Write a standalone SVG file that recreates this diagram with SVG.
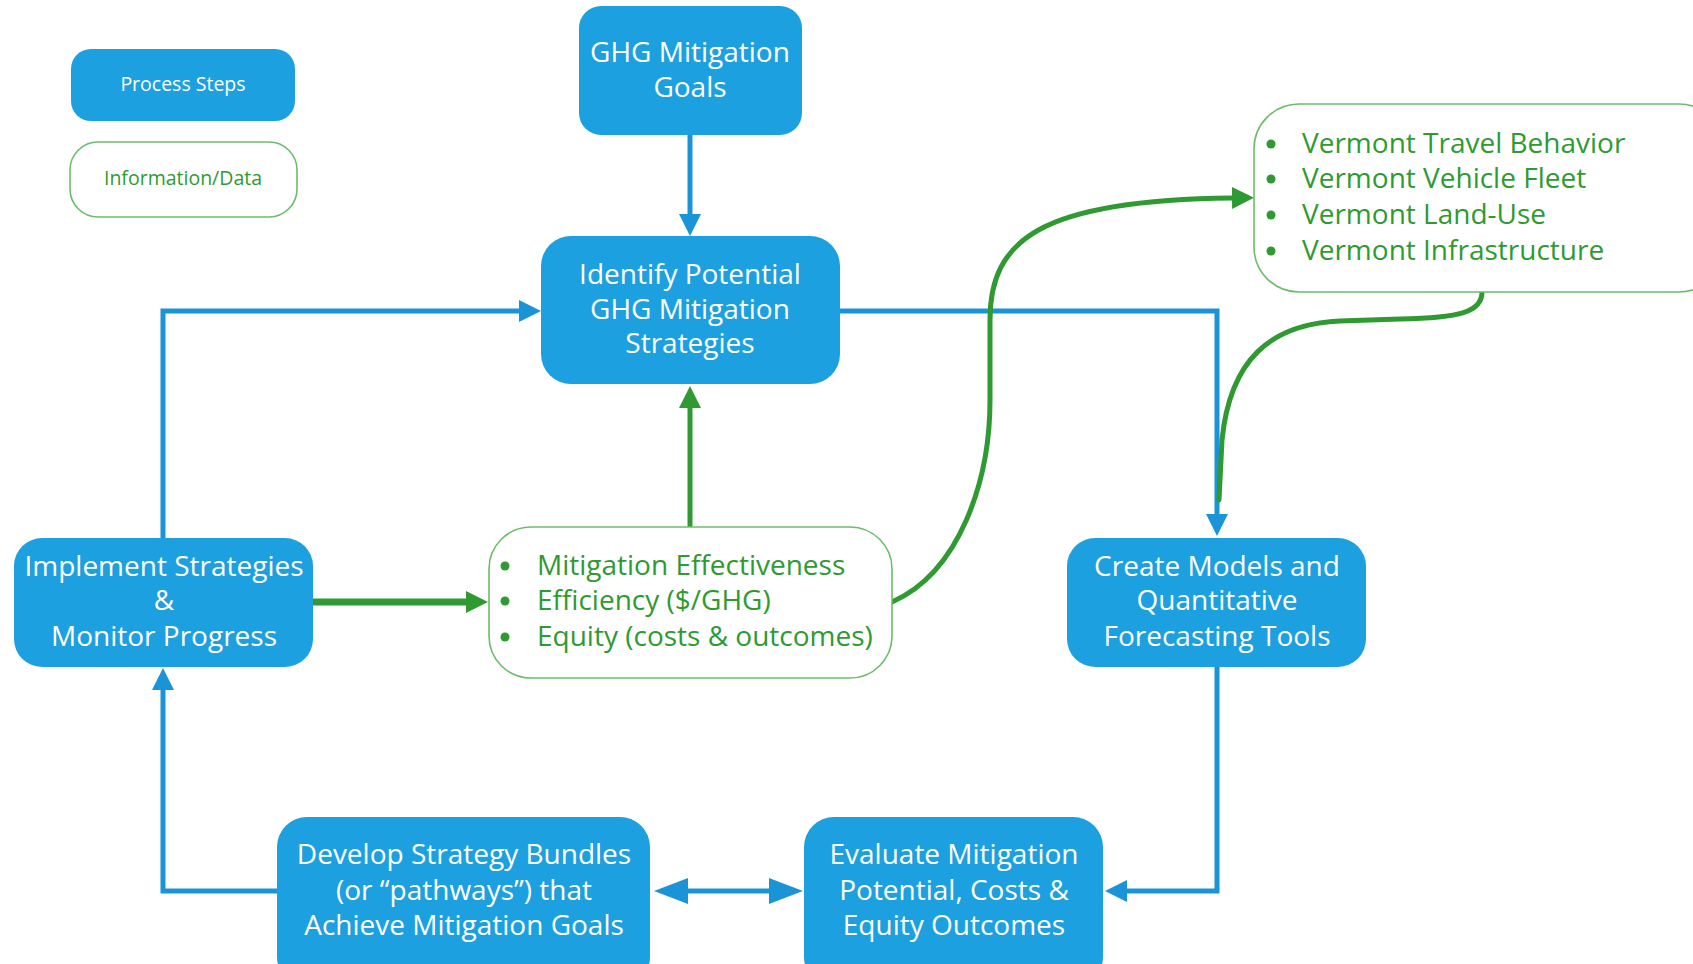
<svg xmlns="http://www.w3.org/2000/svg" width="1693" height="964" viewBox="0 0 1693 964">
<style>
.proc{fill:#1DA0E0;}
.info{fill:#ffffff;stroke:#6CBD6A;stroke-width:1.6;}
.pt{font-family:"Open Sans","Noto Sans",sans-serif;font-size:28px;fill:#ffffff;text-anchor:middle;}
.it{font-family:"Open Sans","Noto Sans",sans-serif;font-size:28px;fill:#2E9A31;}
.bul{fill:#2E9A31;}
.bl{fill:none;stroke:#1A94D6;stroke-width:5;}
.gl{fill:none;stroke:#2E9A31;stroke-width:5;stroke-linecap:round;}
</style>
<defs>
<marker id="ab" viewBox="0 0 22 22" refX="0" refY="11" markerWidth="22" markerHeight="22" orient="auto" markerUnits="userSpaceOnUse"><path d="M0,0 L22,11 L0,22 z" fill="#1A94D6"/></marker>
<marker id="abig" viewBox="0 0 34 26" refX="0" refY="13" markerWidth="34" markerHeight="26" orient="auto-start-reverse" markerUnits="userSpaceOnUse"><path d="M0,0 L34,13 L0,26 z" fill="#1A94D6"/></marker>
<marker id="ag" viewBox="0 0 22 22" refX="0" refY="11" markerWidth="22" markerHeight="22" orient="auto" markerUnits="userSpaceOnUse"><path d="M0,0 L22,11 L0,22 z" fill="#2E9A31"/></marker>
</defs>

<g id="connectors">
<path class="bl" d="M690 135 L690 214" marker-end="url(#ab)"/>
<path class="bl" d="M163 538 L163 311 L519 311" marker-end="url(#ab)"/>
<path class="bl" d="M840 311 L1217 311 L1217 514" marker-end="url(#ab)"/>
<path class="bl" d="M1217 667 L1217 891 L1127 891" marker-end="url(#ab)"/>
<path class="bl" d="M277 891 L163 891 L163 690" marker-end="url(#ab)"/>
<path class="bl" d="M688 891 L769 891" marker-start="url(#abig)" marker-end="url(#abig)"/>
<path class="gl" style="stroke-width:7;stroke-linecap:butt" d="M313 602 L466 602" marker-end="url(#ag)"/>
<path class="gl" style="stroke-linecap:butt" d="M690 527 L690 408" marker-end="url(#ag)"/>
<path class="gl" d="M892 602 C960 572 990 480 990 400 L990 320 C990 240 1040 200 1232 198" marker-end="url(#ag)"/>
<path class="gl" d="M1482 292 C1482 312 1460 318 1400 319 L1340 321 C1270 324 1230 360 1222 440 L1219 500"/>
</g>

<g id="legend-process">
<rect class="proc" x="71" y="49" width="224" height="72" rx="20"/>
<text class="pt" style="font-size:19.5px" x="183" y="91">Process Steps</text>
</g>
<g id="legend-info">
<rect class="info" x="70" y="142" width="227" height="75" rx="28"/>
<text class="it" style="font-size:19.5px;text-anchor:middle" x="183" y="185">Information/Data</text>
</g>

<g id="ghg-goals">
<rect class="proc" x="579" y="6" width="223" height="129" rx="22"/>
<text class="pt" x="690" y="62">GHG Mitigation</text>
<text class="pt" x="690" y="97">Goals</text>
</g>

<g id="identify">
<rect class="proc" x="541" y="236" width="299" height="148" rx="30"/>
<text class="pt" x="690" y="284">Identify Potential</text>
<text class="pt" x="690" y="319">GHG Mitigation</text>
<text class="pt" x="690" y="353">Strategies</text>
</g>

<g id="vermont-data">
<rect class="info" x="1254" y="104" width="470" height="188" rx="45"/>
<circle class="bul" cx="1271" cy="144" r="4.5"/>
<circle class="bul" cx="1271" cy="179" r="4.5"/>
<circle class="bul" cx="1271" cy="215" r="4.5"/>
<circle class="bul" cx="1271" cy="251" r="4.5"/>
<text class="it" x="1302" y="153">Vermont Travel Behavior</text>
<text class="it" x="1302" y="188">Vermont Vehicle Fleet</text>
<text class="it" x="1302" y="224">Vermont Land-Use</text>
<text class="it" x="1302" y="260">Vermont Infrastructure</text>
</g>

<g id="implement">
<rect class="proc" x="14" y="538" width="299" height="129" rx="28"/>
<text class="pt" x="164" y="576">Implement Strategies</text>
<text class="pt" x="164" y="610">&amp;</text>
<text class="pt" x="164" y="646">Monitor Progress</text>
</g>

<g id="mitigation-data">
<rect class="info" x="489" y="527" width="403" height="151" rx="42"/>
<circle class="bul" cx="505" cy="566" r="4.5"/>
<circle class="bul" cx="505" cy="601" r="4.5"/>
<circle class="bul" cx="505" cy="637" r="4.5"/>
<text class="it" x="537" y="575">Mitigation Effectiveness</text>
<text class="it" x="537" y="610">Efficiency ($/GHG)</text>
<text class="it" x="537" y="646">Equity (costs &amp; outcomes)</text>
</g>

<g id="create-models">
<rect class="proc" x="1067" y="538" width="299" height="129" rx="28"/>
<text class="pt" x="1217" y="576">Create Models and</text>
<text class="pt" x="1217" y="610">Quantitative</text>
<text class="pt" x="1217" y="646">Forecasting Tools</text>
</g>

<g id="develop">
<rect class="proc" x="277" y="817" width="373" height="170" rx="30"/>
<text class="pt" x="464" y="864">Develop Strategy Bundles</text>
<text class="pt" x="464" y="900">(or “pathways”) that</text>
<text class="pt" x="464" y="935">Achieve Mitigation Goals</text>
</g>

<g id="evaluate">
<rect class="proc" x="804" y="817" width="299" height="170" rx="30"/>
<text class="pt" x="954" y="864">Evaluate Mitigation</text>
<text class="pt" x="954" y="900">Potential, Costs &amp;</text>
<text class="pt" x="954" y="935">Equity Outcomes</text>
</g>
</svg>
